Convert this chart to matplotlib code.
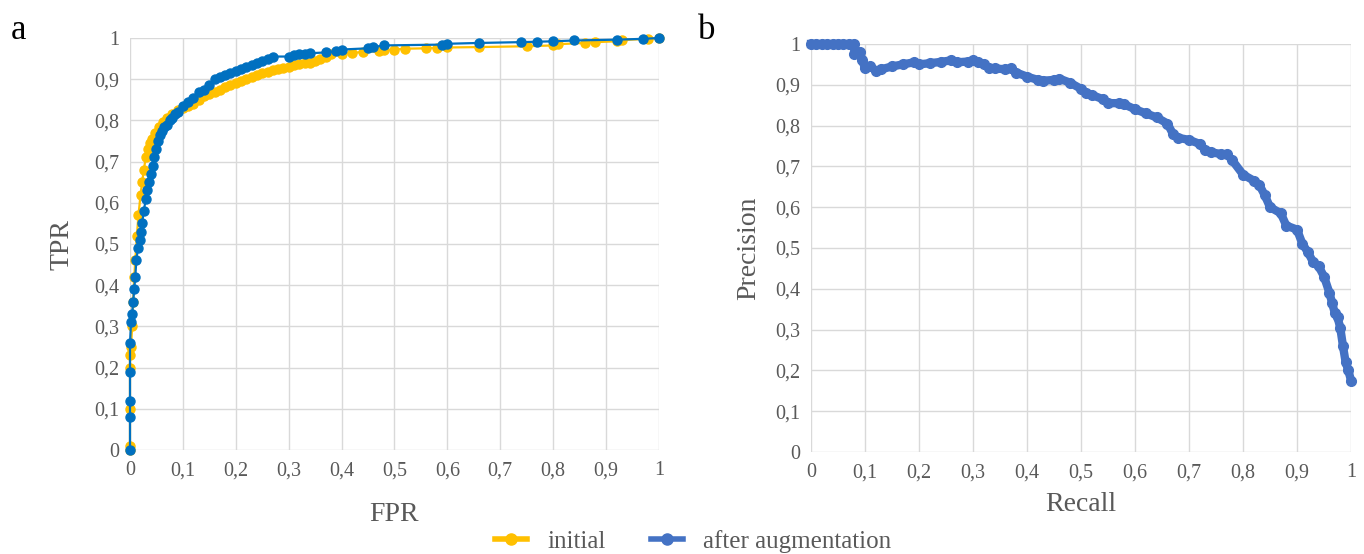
import matplotlib
matplotlib.use("Agg")
import matplotlib.pyplot as plt
from matplotlib.lines import Line2D
import numpy as np

# ROC data: initial
fpr_init = [0, 0, 0, 0, 0, 0.002, 0.004, 0.006, 0.008, 0.01, 0.013, 0.016, 0.02, 0.023, 0.026, 0.03,
            0.034, 0.038, 0.042, 0.048, 0.055, 0.062, 0.07, 0.08, 0.09, 0.1, 0.11, 0.12, 0.13, 0.14,
            0.15, 0.16, 0.17, 0.18, 0.19, 0.2, 0.21, 0.22, 0.23, 0.24, 0.25, 0.26, 0.27, 0.28, 0.29,
            0.3, 0.31, 0.32, 0.33, 0.34, 0.35, 0.36, 0.37, 0.38, 0.4, 0.42, 0.44, 0.47, 0.48, 0.5,
            0.52, 0.56, 0.58, 0.6, 0.66, 0.75, 0.8, 0.81, 0.86, 0.88, 0.92, 0.93, 0.98, 1.0]
tpr_init = [0, 0.01, 0.1, 0.2, 0.23, 0.25, 0.3, 0.36, 0.42, 0.46, 0.52, 0.57, 0.62, 0.65, 0.68, 0.71,
            0.73, 0.745, 0.755, 0.77, 0.785, 0.795, 0.805, 0.815, 0.825, 0.83, 0.835, 0.84, 0.85, 0.86,
            0.865, 0.87, 0.875, 0.88, 0.885, 0.89, 0.895, 0.9, 0.905, 0.91, 0.915, 0.918, 0.922, 0.925, 0.928,
            0.93, 0.935, 0.938, 0.94, 0.94, 0.945, 0.95, 0.955, 0.96, 0.962, 0.964, 0.966, 0.968, 0.97, 0.972,
            0.974, 0.975, 0.976, 0.977, 0.978, 0.98, 0.982, 0.985, 0.988, 0.99, 0.992, 0.995, 0.998, 1.0]

# ROC data: after augmentation
fpr_aug = [0, 0, 0, 0, 0, 0.002, 0.004, 0.006, 0.008, 0.01, 0.012, 0.015, 0.018, 0.02, 0.023, 0.026,
           0.03, 0.033, 0.036, 0.04, 0.043, 0.046, 0.05, 0.053, 0.056, 0.06, 0.065, 0.07, 0.075, 0.08,
           0.085, 0.09, 0.1, 0.11, 0.12, 0.13, 0.14, 0.15, 0.16, 0.17, 0.18, 0.19, 0.2, 0.21, 0.22,
           0.23, 0.24, 0.25, 0.26, 0.27, 0.3, 0.31, 0.32, 0.33, 0.34, 0.37, 0.39, 0.4, 0.45, 0.46,
           0.48, 0.59, 0.6, 0.66, 0.74, 0.77, 0.8, 0.84, 0.92, 0.97, 1.0]
tpr_aug = [0, 0.08, 0.12, 0.19, 0.26, 0.31, 0.33, 0.36, 0.39, 0.42, 0.46, 0.49, 0.51, 0.53, 0.55, 0.58,
           0.61, 0.63, 0.65, 0.67, 0.69, 0.71, 0.73, 0.75, 0.765, 0.775, 0.785, 0.79, 0.8, 0.805,
           0.815, 0.82, 0.835, 0.845, 0.855, 0.87, 0.875, 0.885, 0.9, 0.905, 0.91, 0.915, 0.92, 0.925, 0.93,
           0.935, 0.94, 0.945, 0.95, 0.955, 0.955, 0.958, 0.96, 0.962, 0.963, 0.965, 0.968, 0.972, 0.975, 0.978,
           0.982, 0.984, 0.986, 0.988, 0.99, 0.991, 0.992, 0.994, 0.996, 0.998, 1.0]

# Precision-Recall data
recall = [0, 0.01, 0.02, 0.03, 0.04, 0.05, 0.06, 0.07, 0.08, 0.08, 0.09, 0.095, 0.1, 0.11, 0.12,
          0.13, 0.15, 0.17, 0.19, 0.2, 0.22, 0.24, 0.26, 0.27, 0.29, 0.3, 0.31, 0.32, 0.33, 0.34,
          0.36, 0.37, 0.38, 0.4, 0.42, 0.43, 0.45, 0.46, 0.48, 0.5, 0.51, 0.52, 0.54, 0.55, 0.57,
          0.58, 0.6, 0.62, 0.64, 0.66, 0.67, 0.68, 0.7, 0.72, 0.73, 0.74, 0.76, 0.77, 0.78, 0.8,
          0.82, 0.83, 0.84, 0.85, 0.87, 0.88, 0.9, 0.91, 0.92, 0.93, 0.94, 0.95, 0.96, 0.965, 0.97,
          0.975, 0.98, 0.985, 0.99, 0.995, 1.0]
precision = [1, 1, 1, 1, 1, 1, 1, 1, 1, 0.975, 0.98, 0.96, 0.94, 0.945, 0.935,
             0.938, 0.945, 0.95, 0.955, 0.95, 0.953, 0.956, 0.96, 0.955, 0.957, 0.96, 0.955, 0.95, 0.94, 0.94,
             0.938, 0.94, 0.93, 0.92, 0.912, 0.91, 0.912, 0.915, 0.905, 0.89, 0.88, 0.875, 0.865, 0.855, 0.855,
             0.852, 0.84, 0.83, 0.82, 0.805, 0.78, 0.77, 0.765, 0.755, 0.74, 0.735, 0.73, 0.73, 0.715, 0.68,
             0.665, 0.655, 0.63, 0.6, 0.585, 0.555, 0.545, 0.51, 0.49, 0.465, 0.455, 0.43, 0.39, 0.365, 0.34,
             0.33, 0.305, 0.26, 0.22, 0.2, 0.175]

ticks = np.round(np.arange(0, 1.01, 0.1), 1)
tick_labels = ["0" if t == 0 else ("1" if t == 1 else f"{t:.1f}".replace(".", ",")) for t in ticks]

YELLOW = "#FFC000"
BLUE = "#0070C0"
BLUE_PR = "#4472C4"
TXT = "#595959"
GRID = "#D9D9D9"

plt.rcParams["font.family"] = ["Liberation Serif", "DejaVu Serif"]

fig = plt.figure(figsize=(13.64, 5.54), dpi=100)
ax1 = fig.add_axes([0.0953, 0.1877, 0.3878, 0.7437])
ax2 = fig.add_axes([0.5946, 0.1841, 0.3959, 0.7365])

for ax in (ax1, ax2):
    ax.set_xlim(0, 1)
    ax.set_ylim(0, 1)
    ax.set_xticks(ticks)
    ax.set_yticks(ticks)
    ax.set_xticklabels(tick_labels)
    ax.set_yticklabels(tick_labels)
    ax.grid(True, color=GRID, linewidth=1.0)
    ax.set_axisbelow(True)
    for s in ax.spines.values():
        s.set_visible(False)
    ax.tick_params(length=0, labelsize=14.5, labelcolor=TXT, pad=8)

ax1.plot(fpr_init, tpr_init, color=YELLOW, lw=1.6, marker="o", ms=6.5, clip_on=False, zorder=3)
ax1.plot(fpr_aug, tpr_aug, color=BLUE, lw=1.6, marker="o", ms=6.5, clip_on=False, zorder=4)
ax1.set_xlabel("FPR", fontsize=20, color=TXT, labelpad=16)
ax1.set_ylabel("TPR", fontsize=20, color=TXT, labelpad=14)

ax2.plot(recall, precision, color=BLUE_PR, lw=6, marker="o", ms=7, clip_on=False, zorder=3,
         solid_joinstyle="round")
ax2.set_xlabel("Recall", fontsize=20, color=TXT, labelpad=7)
ax2.set_ylabel("Precision", fontsize=20, color=TXT, labelpad=10)

fig.text(0.008, 0.93, "a", fontsize=25, color="black")
fig.text(0.512, 0.93, "b", fontsize=25, color="black")

handles = [Line2D([], [], color=YELLOW, lw=4, marker="o", ms=8),
           Line2D([], [], color=BLUE_PR, lw=4, marker="o", ms=8)]
fig.legend(handles, ["initial", "after augmentation"], loc="lower center",
           bbox_to_anchor=(0.508, -0.038), ncol=2, frameon=False, fontsize=18,
           labelcolor=TXT, handlelength=1.3, columnspacing=1.8, handletextpad=0.8)

fig.savefig("out.png", dpi=100)
